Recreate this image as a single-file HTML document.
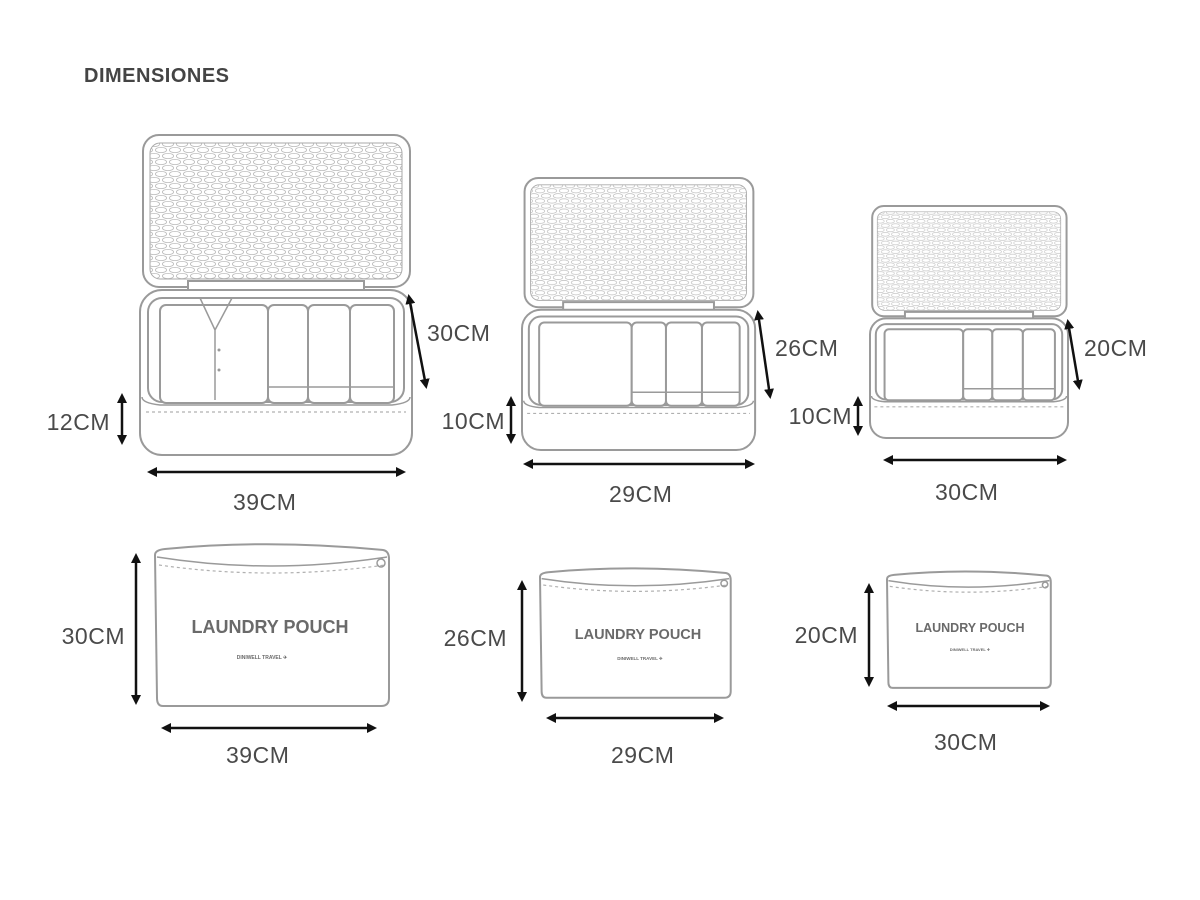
<!DOCTYPE html>
<html><head><meta charset="utf-8"><style>
html,body{margin:0;padding:0;background:#fff;}
svg{display:block;}
.t{font-family:"Liberation Sans",sans-serif;fill:#4a4a4a;font-size:23px;letter-spacing:0.5px;}
.e{text-anchor:end;}
.o{fill:#fff;stroke:#9a9a9a;stroke-width:2;vector-effect:non-scaling-stroke;}
.l{fill:none;stroke:#9a9a9a;stroke-width:1.5;vector-effect:non-scaling-stroke;}
.d{fill:none;stroke:#b0b0b0;stroke-width:1.2;stroke-dasharray:3 3;vector-effect:non-scaling-stroke;}
.a{stroke:#111;stroke-width:2.5;fill:none;}
.p{font-family:"Liberation Sans",sans-serif;font-weight:bold;fill:#6a6a6a;text-anchor:middle;}
</style></head><body>
<svg width="1200" height="900" viewBox="0 0 1200 900" xmlns="http://www.w3.org/2000/svg">
<defs>
<pattern id="hex" width="14" height="12" patternUnits="userSpaceOnUse">
<rect width="14" height="12" fill="#fff"/>
<ellipse cx="7" cy="3" rx="5.6" ry="2.6" fill="none" stroke="#bbb" stroke-width="0.8"/>
<ellipse cx="0" cy="9" rx="5.6" ry="2.6" fill="none" stroke="#bbb" stroke-width="0.8"/>
<ellipse cx="14" cy="9" rx="5.6" ry="2.6" fill="none" stroke="#bbb" stroke-width="0.8"/>
</pattern>
<marker id="ar" markerWidth="10" markerHeight="10" refX="7" refY="5" orient="auto-start-reverse" markerUnits="userSpaceOnUse"><path d="M0,0 L10,5 L0,10 z" fill="#111"/></marker>
<g id="cube">
<rect class="o" x="3" y="0" width="267" height="152" rx="16"/>
<rect x="10" y="8" width="252" height="136" rx="10" fill="url(#hex)" stroke="#aaa" stroke-width="1"/>
<rect class="o" x="48" y="146" width="176" height="20"/>
<rect class="o" x="0" y="155" width="272" height="165" rx="22"/>
<rect class="o" x="8" y="163" width="256" height="104" rx="14"/>
<rect class="o" x="20" y="170" width="108" height="98" rx="6"/>
<rect class="o" x="128" y="170" width="40" height="98" rx="6"/>
<rect class="o" x="168" y="170" width="42" height="98" rx="6"/>
<rect class="o" x="210" y="170" width="44" height="98" rx="6"/>
<path class="l" d="M128,252 H254"/>
<path class="l" d="M2,262 Q2,268 20,270 H252 Q270,268 270,262"/>
<path class="d" d="M6,277 H266"/>
</g>
<g id="pouch">
<path class="o" d="M0,10 Q0,5 10,4 Q115,-6 228,5 Q234,6 234,14 V153 Q234,161 226,161 H8 Q2,161 2,153 Z"/>
<path class="l" d="M2,12 Q115,30 232,12"/>
<path class="d" d="M4,20 Q115,36 230,20"/>
<circle cx="226" cy="18" r="4" class="l"/>
</g>
</defs>

<text x="84" y="82" style="font-family:'Liberation Sans',sans-serif;font-weight:bold;font-size:20px;fill:#444;letter-spacing:0.5px">DIMENSIONES</text>

<use href="#cube" transform="translate(140,135)"/>
<path class="l" d="M200,298 L215,330 M232,298 L215,330 M215,330 V400"/>
<circle cx="219" cy="350" r="1.5" fill="#999"/><circle cx="219" cy="370" r="1.5" fill="#999"/>
<line class="a" x1="150" y1="472" x2="403" y2="472" marker-start="url(#ar)" marker-end="url(#ar)"/>
<line class="a" x1="122" y1="396" x2="122" y2="442" marker-start="url(#ar)" marker-end="url(#ar)"/>
<line class="a" x1="409" y1="297" x2="426" y2="386" marker-start="url(#ar)" marker-end="url(#ar)"/>
<text class="t" x="233" y="510">39CM</text>
<text class="t e" x="110" y="430">12CM</text>
<text class="t" x="427" y="341">30CM</text>

<use href="#cube" transform="translate(522,178) scale(0.857,0.85)"/>
<line class="a" x1="526" y1="464" x2="752" y2="464" marker-start="url(#ar)" marker-end="url(#ar)"/>
<line class="a" x1="511" y1="399" x2="511" y2="441" marker-start="url(#ar)" marker-end="url(#ar)"/>
<line class="a" x1="758" y1="313" x2="770" y2="396" marker-start="url(#ar)" marker-end="url(#ar)"/>
<text class="t" x="609" y="502">29CM</text>
<text class="t e" x="505" y="429">10CM</text>
<text class="t" x="775" y="356">26CM</text>

<use href="#cube" transform="translate(870,206) scale(0.728,0.725)"/>
<line class="a" x1="886" y1="460" x2="1064" y2="460" marker-start="url(#ar)" marker-end="url(#ar)"/>
<line class="a" x1="858" y1="399" x2="858" y2="433" marker-start="url(#ar)" marker-end="url(#ar)"/>
<line class="a" x1="1068" y1="322" x2="1079" y2="387" marker-start="url(#ar)" marker-end="url(#ar)"/>
<text class="t" x="935" y="500">30CM</text>
<text class="t e" x="852" y="424">10CM</text>
<text class="t" x="1084" y="356">20CM</text>

<use href="#pouch" transform="translate(155,545)"/>
<text class="p" x="270" y="633" font-size="18">LAUNDRY POUCH</text>
<text class="p" x="262" y="659" font-size="5">DINIWELL  TRAVEL ✈</text>
<line class="a" x1="136" y1="556" x2="136" y2="702" marker-start="url(#ar)" marker-end="url(#ar)"/>
<line class="a" x1="164" y1="728" x2="374" y2="728" marker-start="url(#ar)" marker-end="url(#ar)"/>
<text class="t e" x="125" y="644">30CM</text>
<text class="t" x="226" y="763">39CM</text>

<use href="#pouch" transform="translate(540,569) scale(0.815,0.8)"/>
<text class="p" x="638" y="639" font-size="14.5">LAUNDRY POUCH</text>
<text class="p" x="640" y="660" font-size="4.5">DINIWELL  TRAVEL ✈</text>
<line class="a" x1="522" y1="583" x2="522" y2="699" marker-start="url(#ar)" marker-end="url(#ar)"/>
<line class="a" x1="549" y1="718" x2="721" y2="718" marker-start="url(#ar)" marker-end="url(#ar)"/>
<text class="t e" x="507" y="646">26CM</text>
<text class="t" x="611" y="763">29CM</text>

<use href="#pouch" transform="translate(887,572) scale(0.7,0.72)"/>
<text class="p" x="970" y="632" font-size="12.5">LAUNDRY POUCH</text>
<text class="p" x="970" y="651" font-size="4">DINIWELL  TRAVEL ✈</text>
<line class="a" x1="869" y1="586" x2="869" y2="684" marker-start="url(#ar)" marker-end="url(#ar)"/>
<line class="a" x1="890" y1="706" x2="1047" y2="706" marker-start="url(#ar)" marker-end="url(#ar)"/>
<text class="t e" x="858" y="643">20CM</text>
<text class="t" x="934" y="750">30CM</text>
</svg>
</body></html>
